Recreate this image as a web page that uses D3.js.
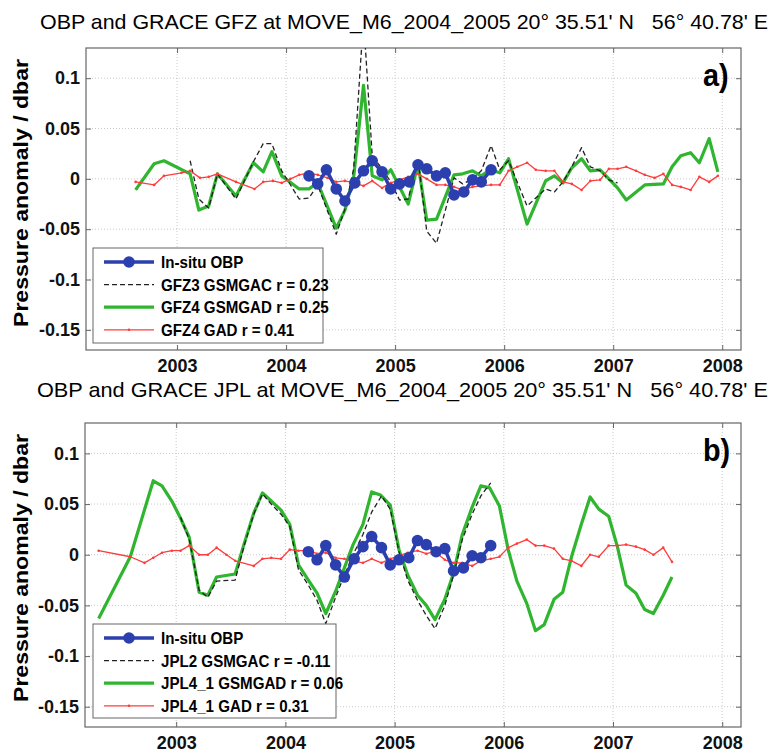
<!DOCTYPE html>
<html>
<head>
<meta charset="utf-8">
<script src="https://cdn.jsdelivr.net/npm/d3@7"></script>
<style>
  body { margin: 0; background: #fff; }
  text { font-family: "Liberation Sans", Arial, sans-serif; white-space: pre; }
</style>
</head>
<body>
<svg width="770" height="753"></svg>
<script>
// tick labels
var yearTicks = [2003, 2004, 2005, 2006, 2007, 2008];
var valueTicks = [-0.15, -0.1, -0.05, 0, 0.05, 0.1];

// in-situ bottom pressure (same in both panels), [decimal year, dbar]
var insituObp = [
  [2004.21, 0.003], [2004.29, -0.005], [2004.37, 0.009], [2004.46, -0.010], [2004.54, -0.022],
  [2004.63, -0.004], [2004.71, 0.008], [2004.79, 0.018], [2004.88, 0.007], [2004.96, -0.010],
  [2005.04, -0.005], [2005.13, -0.003], [2005.21, 0.014], [2005.29, 0.010], [2005.38, 0.003],
  [2005.46, 0.006], [2005.54, -0.016], [2005.63, -0.013], [2005.71, -0.001], [2005.79, -0.003],
  [2005.88, 0.009]
];

// panel a) GFZ
var gfz3Gsmgac = [
  [2003.12, 0.018], [2003.20, -0.020], [2003.29, -0.029], [2003.37, 0.005], [2003.54, -0.020],
  [2003.70, 0.017], [2003.79, 0.035], [2003.87, 0.035], [2003.96, 0.008], [2004.12, -0.020],
  [2004.21, -0.019], [2004.29, -0.006], [2004.46, -0.055], [2004.54, -0.030], [2004.62, 0.010],
  [2004.71, 0.160], [2004.79, 0.023], [2004.88, 0.010], [2004.96, -0.003], [2005.04, -0.021],
  [2005.12, -0.020], [2005.21, 0.020], [2005.29, -0.052], [2005.38, -0.064], [2005.54, 0.001],
  [2005.62, -0.005], [2005.71, 0.000], [2005.79, 0.008], [2005.88, 0.033], [2005.96, 0.009],
  [2006.04, 0.018], [2006.21, -0.027], [2006.38, -0.010], [2006.46, -0.013], [2006.54, -0.003],
  [2006.62, 0.012], [2006.71, 0.031], [2006.79, 0.012], [2006.88, 0.008], [2006.96, -0.001],
  [2007.04, -0.004]
];
var gfz4Gsmgad = [
  [2002.62, -0.011], [2002.79, 0.015], [2002.88, 0.018], [2003.12, 0.005], [2003.20, -0.031],
  [2003.29, -0.027], [2003.37, 0.005], [2003.54, -0.017], [2003.70, 0.016], [2003.79, 0.007],
  [2003.87, 0.027], [2003.96, 0.003], [2004.12, -0.010], [2004.21, -0.010], [2004.29, -0.004],
  [2004.46, -0.049], [2004.54, -0.031], [2004.62, 0.002], [2004.71, 0.093], [2004.79, 0.003],
  [2004.88, -0.001], [2004.96, 0.009], [2005.12, -0.025], [2005.21, 0.015], [2005.29, -0.041],
  [2005.38, -0.040], [2005.54, 0.004], [2005.62, 0.005], [2005.71, 0.008], [2005.79, 0.003],
  [2005.87, 0.009], [2005.96, 0.006], [2006.04, 0.020], [2006.21, -0.045], [2006.38, -0.002],
  [2006.46, 0.003], [2006.54, -0.004], [2006.62, 0.011], [2006.71, 0.020], [2006.79, 0.008],
  [2006.88, 0.009], [2007.04, -0.009], [2007.12, -0.021], [2007.29, -0.006], [2007.46, -0.005],
  [2007.54, 0.012], [2007.62, 0.023], [2007.71, 0.026], [2007.79, 0.016], [2007.88, 0.040],
  [2007.96, 0.007]
];
var gfz4Gad = [
  [2002.62, -0.003], [2002.79, -0.006], [2002.88, 0.003], [2003.04, 0.006], [2003.12, 0.008],
  [2003.21, 0.001], [2003.29, 0.002], [2003.37, 0.005], [2003.54, -0.003], [2003.71, -0.010],
  [2003.79, -0.003], [2003.88, -0.002], [2003.96, -0.004], [2004.04, 0.000], [2004.12, 0.004],
  [2004.21, 0.006], [2004.29, 0.004], [2004.38, 0.001], [2004.46, -0.003], [2004.54, -0.002],
  [2004.62, -0.004], [2004.71, -0.007], [2004.79, -0.002], [2004.88, -0.009], [2004.96, -0.004],
  [2005.04, -0.001], [2005.12, 0.002], [2005.21, 0.005], [2005.29, 0.000], [2005.38, -0.006],
  [2005.46, -0.006], [2005.54, -0.008], [2005.62, -0.011], [2005.71, -0.008], [2005.79, -0.007],
  [2005.88, -0.006], [2005.96, -0.006], [2006.04, 0.008], [2006.12, 0.012], [2006.21, 0.016],
  [2006.29, 0.009], [2006.38, 0.008], [2006.46, 0.008], [2006.54, -0.003], [2006.62, -0.005],
  [2006.71, -0.011], [2006.79, -0.002], [2006.88, -0.001], [2006.96, 0.010], [2007.04, 0.010],
  [2007.12, 0.012], [2007.21, 0.008], [2007.29, 0.004], [2007.38, 0.001], [2007.46, 0.005],
  [2007.54, -0.006], [2007.62, -0.008], [2007.71, -0.011], [2007.79, 0.002], [2007.88, -0.003],
  [2007.96, 0.003]
];

// panel b) JPL
var jpl2Gsmgac = [
  [2003.04, 0.037], [2003.12, 0.015], [2003.21, -0.035], [2003.29, -0.042], [2003.37, -0.026],
  [2003.54, -0.025], [2003.62, 0.008], [2003.71, 0.040], [2003.79, 0.060], [2003.87, 0.050],
  [2003.96, 0.040], [2004.04, 0.028], [2004.12, -0.015], [2004.21, -0.030], [2004.29, -0.045],
  [2004.37, -0.068], [2004.46, -0.042], [2004.54, -0.020], [2004.62, 0.000], [2004.71, 0.020],
  [2004.79, 0.042], [2004.88, 0.058], [2004.96, 0.045], [2005.04, 0.003], [2005.12, -0.025],
  [2005.21, -0.045], [2005.29, -0.060], [2005.37, -0.073], [2005.46, -0.050], [2005.54, -0.020],
  [2005.62, 0.015], [2005.71, 0.040], [2005.79, 0.058], [2005.88, 0.071]
];
var jpl41Gsmgad = [
  [2002.29, -0.063], [2002.58, -0.002], [2002.79, 0.073], [2002.87, 0.068], [2002.96, 0.053],
  [2003.04, 0.036], [2003.12, 0.017], [2003.21, -0.037], [2003.29, -0.040], [2003.37, -0.022],
  [2003.54, -0.019], [2003.62, 0.010], [2003.71, 0.041], [2003.79, 0.061], [2003.87, 0.053],
  [2003.96, 0.044], [2004.04, 0.030], [2004.12, -0.010], [2004.21, -0.025], [2004.29, -0.038],
  [2004.37, -0.058], [2004.46, -0.036], [2004.54, -0.013], [2004.62, 0.010], [2004.71, 0.030],
  [2004.79, 0.062], [2004.87, 0.059], [2004.96, 0.049], [2005.04, 0.005], [2005.12, -0.020],
  [2005.21, -0.040], [2005.29, -0.050], [2005.37, -0.064], [2005.46, -0.044], [2005.54, -0.018],
  [2005.62, 0.020], [2005.71, 0.047], [2005.79, 0.068], [2005.87, 0.066], [2005.96, 0.048],
  [2006.04, 0.005], [2006.12, -0.026], [2006.21, -0.048], [2006.29, -0.075], [2006.37, -0.069],
  [2006.46, -0.044], [2006.54, -0.037], [2006.62, -0.002], [2006.71, 0.030], [2006.79, 0.057],
  [2006.87, 0.045], [2006.96, 0.038], [2007.04, 0.008], [2007.12, -0.030], [2007.21, -0.038],
  [2007.29, -0.054], [2007.37, -0.058], [2007.46, -0.040], [2007.54, -0.022]
];
var jpl41Gad = [
  [2002.29, 0.004], [2002.58, -0.002], [2002.71, -0.008], [2002.79, -0.003], [2002.87, 0.002],
  [2002.96, 0.004], [2003.04, 0.004], [2003.12, 0.009], [2003.21, 0.000], [2003.29, 0.000],
  [2003.37, 0.007], [2003.46, 0.000], [2003.54, -0.006], [2003.71, -0.011], [2003.79, -0.004],
  [2003.87, -0.003], [2003.96, -0.004], [2004.04, 0.005], [2004.12, 0.004], [2004.21, 0.004],
  [2004.29, 0.001], [2004.37, 0.002], [2004.46, -0.003], [2004.54, -0.004], [2004.62, -0.006],
  [2004.71, -0.008], [2004.79, -0.004], [2004.88, -0.008], [2004.96, -0.004], [2005.04, -0.001],
  [2005.12, 0.002], [2005.21, 0.004], [2005.29, 0.001], [2005.37, 0.003], [2005.46, -0.005],
  [2005.54, -0.008], [2005.62, -0.008], [2005.71, -0.011], [2005.79, -0.006], [2005.88, -0.004],
  [2005.96, -0.002], [2006.04, 0.007], [2006.12, 0.011], [2006.21, 0.015], [2006.29, 0.009],
  [2006.37, 0.009], [2006.46, 0.006], [2006.54, -0.004], [2006.62, -0.006], [2006.71, -0.011],
  [2006.79, 0.000], [2006.87, -0.002], [2006.96, 0.009], [2007.04, 0.009], [2007.12, 0.010],
  [2007.21, 0.008], [2007.29, 0.005], [2007.37, 0.000], [2007.46, 0.007], [2007.54, -0.007]
];

var svg = d3.select("svg");
var blue = "#2b3fae", green = "#2fb52f", red = "#ff3c3c", frame = "#666";

var styles = {
  obp: { stroke: blue, width: 3.5, dash: null },
  gac: { stroke: "#222", width: 1.3, dash: "5,3" },
  gad4: { stroke: green, width: 3.2, dash: null },
  gad: { stroke: red, width: 1.3, dash: null }
};
var drawOrder = ["gad4", "gac", "gad", "obp"]; // blue ends on top

// squeeze a text horizontally, the picture's fonts are narrow
function squeeze(sel, k) {
  sel.each(function () {
    var len = this.getComputedTextLength();
    d3.select(this).attr("textLength", len * k).attr("lengthAdjust", "spacingAndGlyphs");
  });
}

function drawPanel(p) {
  var x = d3.scaleLinear().domain([2002.165, 2008.172]).range([p.left, p.right]);
  var y = d3.scaleLinear().domain([-0.17, 0.13]).range([p.bottom, p.top]);
  var g = svg.append("g");

  // title
  g.append("text")
    .attr("x", p.titleX).attr("y", p.titleY)
    .attr("font-size", 21)
    .attr("textLength", 768 - p.titleX).attr("lengthAdjust", "spacingAndGlyphs")
    .text(p.title);

  // grid
  g.selectAll(".gx").data(yearTicks).enter().append("line")
    .attr("x1", function (d) { return x(d); }).attr("x2", function (d) { return x(d); })
    .attr("y1", p.top).attr("y2", p.bottom)
    .attr("stroke", "#bbb").attr("stroke-width", 0.8).attr("stroke-dasharray", "1,2");
  g.selectAll(".gy").data(valueTicks).enter().append("line")
    .attr("x1", p.left).attr("x2", p.right)
    .attr("y1", function (d) { return y(d); }).attr("y2", function (d) { return y(d); })
    .attr("stroke", "#bbb").attr("stroke-width", 0.8).attr("stroke-dasharray", "1,2");

  // axes with inward ticks
  var ax = g.append("g").attr("transform", "translate(0," + p.bottom + ")")
    .call(d3.axisBottom(x).tickValues(yearTicks).tickFormat(d3.format("d")).tickSizeInner(-5).tickSizeOuter(0).tickPadding(9));
  var ay = g.append("g").attr("transform", "translate(" + p.left + ",0)")
    .call(d3.axisLeft(y).tickValues(valueTicks).tickFormat(function (d) { return d === 0 ? "0" : String(d); }).tickSizeInner(-5).tickSizeOuter(0).tickPadding(6));
  g.append("g").attr("transform", "translate(0," + p.top + ")")
    .call(d3.axisTop(x).tickValues(yearTicks).tickFormat("").tickSizeInner(-5).tickSizeOuter(0));
  g.append("g").attr("transform", "translate(" + p.right + ",0)")
    .call(d3.axisRight(y).tickValues(valueTicks).tickFormat("").tickSizeInner(-5).tickSizeOuter(0));
  g.selectAll(".domain").remove();
  g.selectAll(".tick line").attr("stroke", frame);
  ax.selectAll("text").attr("font-size", 18).attr("font-weight", "bold").attr("fill", "#111");
  ay.selectAll("text").attr("font-size", 18).attr("font-weight", "bold").attr("fill", "#111");

  g.append("rect")
    .attr("x", p.left).attr("y", p.top)
    .attr("width", p.right - p.left).attr("height", p.bottom - p.top)
    .attr("fill", "none").attr("stroke", frame).attr("stroke-width", 1.2);

  // y label
  g.append("text")
    .attr("transform", "translate(28," + p.labelY + ") rotate(-90)")
    .attr("text-anchor", "middle")
    .attr("font-size", 21).attr("font-weight", "bold")
    .attr("textLength", 268).attr("lengthAdjust", "spacingAndGlyphs")
    .text("Pressure anomaly / dbar");

  // series
  var clipId = "clip" + p.id;
  svg.append("clipPath").attr("id", clipId).append("rect")
    .attr("x", p.left).attr("y", p.top)
    .attr("width", p.right - p.left).attr("height", p.bottom - p.top);
  var plot = g.append("g").attr("clip-path", "url(#" + clipId + ")");
  var line = d3.line().x(function (d) { return x(d[0]); }).y(function (d) { return y(d[1]); });

  drawOrder.forEach(function (key) {
    var s = p.series.filter(function (d) { return d.style === key; })[0];
    var st = styles[key];
    plot.append("path").datum(s.data)
      .attr("d", line).attr("fill", "none")
      .attr("stroke", st.stroke).attr("stroke-width", st.width)
      .attr("stroke-linejoin", "round")
      .attr("stroke-dasharray", st.dash);
    if (key === "gad" || key === "obp") {
      plot.selectAll(null).data(s.data).enter().append("circle")
        .attr("cx", function (d) { return x(d[0]); }).attr("cy", function (d) { return y(d[1]); })
        .attr("r", key === "obp" ? 5.8 : 1.3).attr("fill", st.stroke);
    }
  });

  // panel letter
  g.append("text")
    .attr("x", p.right - 38).attr("y", p.top + 38)
    .attr("font-size", 32).attr("font-weight", "bold")
    .text(p.letter)
    .call(squeeze, 0.9);

  // legend
  var lg = g.append("g");
  lg.append("rect")
    .attr("x", p.legend.x).attr("y", p.legend.y)
    .attr("width", p.legend.w).attr("height", p.legend.h)
    .attr("fill", "#fff").attr("stroke", frame).attr("stroke-width", 1);
  p.series.forEach(function (s, i) {
    var st = styles[s.style];
    var ly = p.legend.y + 14 + i * 22.6;
    var x0 = p.legend.x + 11, x1 = p.legend.x + 61;
    lg.append("line")
      .attr("x1", x0).attr("x2", x1).attr("y1", ly).attr("y2", ly)
      .attr("stroke", st.stroke).attr("stroke-width", st.width)
      .attr("stroke-dasharray", st.dash);
    if (s.style === "obp" || s.style === "gad") {
      lg.append("circle").attr("cx", (x0 + x1) / 2).attr("cy", ly)
        .attr("r", s.style === "obp" ? 5.8 : 1.3).attr("fill", st.stroke);
    }
    lg.append("text")
      .attr("x", x1 + 7).attr("y", ly).attr("dy", "0.36em")
      .attr("font-size", 17).attr("font-weight", "bold")
      .text(s.name)
      .call(squeeze, 0.89);
  });
}

drawPanel({
  id: "a", top: 48, bottom: 350, left: 86, right: 741, labelY: 193,
  title: "OBP and GRACE GFZ at MOVE_M6_2004_2005 20\u00b0 35.51' N   56\u00b0 40.78' E",
  titleX: 40, titleY: 29, letter: "a)",
  legend: { x: 93, y: 248, w: 230, h: 95 },
  series: [
    { name: "In-situ OBP", style: "obp", data: insituObp },
    { name: "GFZ3 GSMGAC r = 0.23", style: "gac", data: gfz3Gsmgac },
    { name: "GFZ4 GSMGAD r = 0.25", style: "gad4", data: gfz4Gsmgad },
    { name: "GFZ4 GAD r = 0.41", style: "gad", data: gfz4Gad }
  ]
});

drawPanel({
  id: "b", top: 423, bottom: 727, left: 85, right: 741, labelY: 568,
  title: "OBP and GRACE JPL at MOVE_M6_2004_2005 20\u00b0 35.51' N   56\u00b0 40.78' E",
  titleX: 37, titleY: 397, letter: "b)",
  legend: { x: 93, y: 624, w: 243, h: 94 },
  series: [
    { name: "In-situ OBP", style: "obp", data: insituObp },
    { name: "JPL2 GSMGAC r = -0.11", style: "gac", data: jpl2Gsmgac },
    { name: "JPL4_1 GSMGAD r = 0.06", style: "gad4", data: jpl41Gsmgad },
    { name: "JPL4_1 GAD r = 0.31", style: "gad", data: jpl41Gad }
  ]
});
</script>
</body>
</html>
